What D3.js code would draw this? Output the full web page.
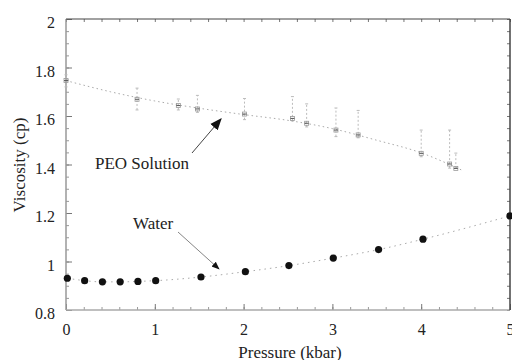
<!DOCTYPE html>
<html lang="en">
<head>
<meta charset="UTF-8">
<title>Viscosity vs Pressure</title>
<script src="https://cdn.jsdelivr.net/npm/d3@7"></script>
<style>
    body { margin: 0; background: #fff; }
    svg { display: block; }
    svg text { font-family: "Liberation Serif", "Times New Roman", serif !important; fill: #222; }
</style>
</head>
<body>
<div id="chart"></div>
<script>
// water (filled dots)
var waterP = [0.015, 0.21, 0.41, 0.61, 0.81, 1.01, 1.52, 2.02, 2.51, 3.01, 3.52, 4.02, 5.0];
var waterV = [0.931, 0.921, 0.916, 0.916, 0.918, 0.921, 0.936, 0.958, 0.983, 1.014, 1.049, 1.092, 1.188];

// PEO solution (faint markers with error bars)
var peoP = [0.0, 0.80, 1.265, 1.48, 2.01, 2.55, 2.71, 3.04, 3.29, 4.0, 4.32, 4.39];
var peoV = [1.746, 1.669, 1.643, 1.629, 1.608, 1.590, 1.570, 1.542, 1.522, 1.446, 1.402, 1.384];
var peoLo = [1.72, 1.625, 1.625, 1.615, 1.585, 1.580, 1.555, 1.515, 1.510, 1.432, 1.385, 1.385];
var peoHi = [1.77, 1.715, 1.670, 1.685, 1.672, 1.680, 1.650, 1.633, 1.623, 1.542, 1.542, 1.447];

// dotted fit line for PEO
var fitP = [0, 0.5, 1, 1.5, 2, 2.5, 3, 3.5, 4, 4.45];
var fitV = [1.746, 1.700, 1.662, 1.632, 1.606, 1.582, 1.548, 1.500, 1.448, 1.378];

var xTicks = [0, 1, 2, 3, 4, 5];
var yTicks = [0.8, 1, 1.2, 1.4, 1.6, 1.8, 2];

var W = 512, H = 360;
var mLeft = 66, mRight = 510, mTop = 19, mBottom = 310;
var serif = "'Liberation Serif', 'Times New Roman', serif";

var svg = d3.select("#chart").append("svg")
    .attr("width", W).attr("height", H)
    .style("font-family", serif);

var x = d3.scaleLinear().domain([0, 5]).range([mLeft, mRight]);
var y = d3.scaleLinear().domain([0.8, 2]).range([mBottom, mTop]);

var defs = svg.append("defs");
defs.append("marker")
    .attr("id", "head")
    .attr("viewBox", "0 0 10 10")
    .attr("refX", 9).attr("refY", 5)
    .attr("markerWidth", 8).attr("markerHeight", 8)
    .attr("markerUnits", "userSpaceOnUse")
    .attr("orient", "auto")
    .append("path").attr("d", "M0,1 L10,5 L0,9 Z").attr("fill", "#111");
defs.append("marker")
    .attr("id", "head2")
    .attr("viewBox", "0 0 10 10")
    .attr("refX", 9).attr("refY", 5)
    .attr("markerWidth", 12).attr("markerHeight", 12)
    .attr("markerUnits", "userSpaceOnUse")
    .attr("orient", "auto")
    .append("path").attr("d", "M0,1 L10,5 L0,9 Z").attr("fill", "#111");

// axes with inward ticks on all four sides
var xMinor = d3.range(0, 5.001, 0.2);
var yMinor = d3.range(0.8, 2.001, 0.05);

svg.append("g").attr("transform", "translate(0," + mBottom + ")")
    .call(d3.axisBottom(x).tickValues(xMinor).tickSize(-3).tickFormat(""))
    .call(function (g) { g.select(".domain").remove(); g.selectAll("line").attr("stroke", "#999"); });
svg.append("g").attr("transform", "translate(0," + mBottom + ")")
    .call(d3.axisBottom(x).tickValues(xTicks).tickSize(-6).tickPadding(14).tickFormat(d3.format("d")))
    .call(function (g) {
        g.attr("font-family", null);
        g.select(".domain").remove();
        g.selectAll("line").attr("stroke", "#777");
        g.selectAll("text").attr("font-size", 16);
    });
svg.append("g").attr("transform", "translate(0," + mTop + ")")
    .call(d3.axisTop(x).tickValues(xMinor).tickSize(-3).tickFormat(""))
    .call(function (g) { g.select(".domain").remove(); g.selectAll("line").attr("stroke", "#777"); });

svg.append("g").attr("transform", "translate(" + mLeft + ",0)")
    .call(d3.axisLeft(y).tickValues(yMinor).tickSize(-3).tickFormat(""))
    .call(function (g) { g.select(".domain").remove(); g.selectAll("line").attr("stroke", "#999"); });
svg.append("g").attr("transform", "translate(" + mLeft + ",0)")
    .call(d3.axisLeft(y).tickValues(yTicks).tickSize(-6).tickPadding(11).tickFormat(d3.format("")))
    .call(function (g) {
        g.attr("font-family", null);
        g.select(".domain").remove();
        g.selectAll("line").attr("stroke", "#777");
        g.selectAll("text").attr("font-size", 16).attr("dy", "0.55em");
    });
svg.append("g").attr("transform", "translate(" + mRight + ",0)")
    .call(d3.axisRight(y).tickValues(yMinor).tickSize(-3).tickFormat(""))
    .call(function (g) { g.select(".domain").remove(); g.selectAll("line").attr("stroke", "#777"); });

// frame
svg.append("line").attr("x1", mLeft).attr("x2", mLeft).attr("y1", mTop).attr("y2", mBottom)
    .attr("stroke", "#999").attr("stroke-width", 1.5);
svg.append("line").attr("x1", mLeft).attr("x2", mRight).attr("y1", mBottom).attr("y2", mBottom)
    .attr("stroke", "#aaa").attr("stroke-width", 1.5);
svg.append("line").attr("x1", mLeft).attr("x2", mRight).attr("y1", mTop).attr("y2", mTop)
    .attr("stroke", "#444").attr("stroke-width", 1.2);
svg.append("line").attr("x1", mRight).attr("x2", mRight).attr("y1", mTop).attr("y2", mBottom)
    .attr("stroke", "#444").attr("stroke-width", 1.5);

// fit lines
var fit = fitP.map(function (p, i) { return [p, fitV[i]]; });
svg.append("path").datum(fit)
    .attr("fill", "none").attr("stroke", "#aaa").attr("stroke-width", 1)
    .attr("stroke-dasharray", "1.5,3")
    .attr("d", d3.line().curve(d3.curveMonotoneX)
        .x(function (d) { return x(d[0]); }).y(function (d) { return y(d[1]); }));

var water = waterP.map(function (p, i) { return [p, waterV[i]]; });
svg.append("path").datum(water)
    .attr("fill", "none").attr("stroke", "#aaa").attr("stroke-width", 1)
    .attr("stroke-dasharray", "1.5,4")
    .attr("d", d3.line().curve(d3.curveMonotoneX)
        .x(function (d) { return x(d[0]); }).y(function (d) { return y(d[1]); }));

// PEO error bars and markers
var peo = peoP.map(function (p, i) { return { p: p, v: peoV[i], lo: peoLo[i], hi: peoHi[i] }; });
var eb = svg.append("g").attr("stroke", "#bbb").attr("stroke-width", 1);
eb.selectAll(".bar").data(peo).enter().append("line")
    .attr("x1", function (d) { return x(d.p); }).attr("x2", function (d) { return x(d.p); })
    .attr("y1", function (d) { return y(d.lo); }).attr("y2", function (d) { return y(d.hi); })
    .attr("stroke-dasharray", "2,2");
eb.selectAll(".capLo").data(peo).enter().append("line")
    .attr("x1", function (d) { return x(d.p) - 1.5; }).attr("x2", function (d) { return x(d.p) + 1.5; })
    .attr("y1", function (d) { return y(d.lo); }).attr("y2", function (d) { return y(d.lo); });
eb.selectAll(".capHi").data(peo).enter().append("line")
    .attr("x1", function (d) { return x(d.p) - 1.5; }).attr("x2", function (d) { return x(d.p) + 1.5; })
    .attr("y1", function (d) { return y(d.hi); }).attr("y2", function (d) { return y(d.hi); });
svg.selectAll(".peo").data(peo).enter().append("rect")
    .attr("x", function (d) { return x(d.p) - 2; })
    .attr("y", function (d) { return y(d.v) - 2; })
    .attr("width", 4).attr("height", 4)
    .attr("fill", "none").attr("stroke", "#999").attr("stroke-width", 0.8);
svg.selectAll(".peoDot").data(peo).enter().append("line")
    .attr("x1", function (d) { return x(d.p) - 2; }).attr("x2", function (d) { return x(d.p) + 2; })
    .attr("y1", function (d) { return y(d.v); }).attr("y2", function (d) { return y(d.v); })
    .attr("stroke", "#555").attr("stroke-width", 1);

// water dots
svg.selectAll(".water").data(water).enter().append("circle")
    .attr("cx", function (d) { return x(d[0]); })
    .attr("cy", function (d) { return y(d[1]); })
    .attr("r", 3.6).attr("fill", "#111");

// annotations
svg.append("line")
    .attr("x1", 192).attr("y1", 153).attr("x2", 221).attr("y2", 119)
    .attr("stroke", "#444").attr("stroke-width", 1)
    .attr("marker-end", "url(#head2)");
svg.append("text").attr("x", 95).attr("y", 169)
    .attr("font-size", 17).text("PEO Solution");

svg.append("line")
    .attr("x1", 178).attr("y1", 232).attr("x2", 219).attr("y2", 269)
    .attr("stroke", "#666").attr("stroke-width", 0.8)
    .attr("marker-end", "url(#head)");
svg.append("text").attr("x", 133).attr("y", 229)
    .attr("font-size", 17).text("Water");

// axis titles
svg.append("text").attr("x", 290).attr("y", 358)
    .attr("text-anchor", "middle").attr("font-size", 17).text("Pressure (kbar)");
svg.append("text")
    .attr("transform", "translate(25,165) rotate(-90)")
    .attr("text-anchor", "middle").attr("font-size", 17).text("Viscosity (cp)");
</script>
</body>
</html>
